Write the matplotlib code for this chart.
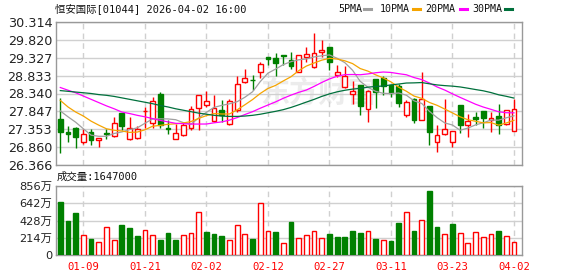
import numpy as np
import pandas as pd
import matplotlib
matplotlib.use('Agg')
import matplotlib.pyplot as plt
from matplotlib.lines import Line2D

plt.rcParams['font.family'] = ['DejaVu Sans', 'Noto Sans CJK SC']
MONO = ['DejaVu Sans Mono', 'Noto Sans CJK SC']

# ---- data ----
dates = ['01-06', '01-07', '01-08', '01-09', '01-12', '01-13', '01-14', '01-15', '01-16', '01-19',
         '01-20', '01-21', '01-22', '01-23', '01-26', '01-27', '01-28', '01-29', '01-30', '02-02',
         '02-03', '02-04', '02-05', '02-06', '02-09', '02-10', '02-11', '02-12', '02-13', '02-16',
         '02-20', '02-23', '02-24', '02-25', '02-26', '02-27', '03-02', '03-03', '03-04', '03-05',
         '03-06', '03-09', '03-10', '03-11', '03-12', '03-13', '03-16', '03-17', '03-18', '03-19',
         '03-20', '03-23', '03-24', '03-25', '03-26', '03-27', '03-30', '03-31', '04-01', '04-02']

opens = [27.632, 27.28, 27.402, 27.007, 27.28, 27.07, 27.26, 27.172, 27.806, 27.099,
         27.126, 27.85, 27.531, 28.321, 27.40, 27.098, 27.21, 27.402, 27.953, 28.036,
         27.595, 27.898, 27.512, 27.880, 28.643, 28.72, 28.918, 29.35, 29.313, 29.41,
         29.258, 28.937, 29.341, 29.056, 29.470, 29.617, 28.845, 28.523, 28.330, 28.569,
         27.926, 28.734, 28.753, 28.569, 28.541, 27.742, 28.201, 27.622, 28.0, 27.007,
         27.237, 27.007, 28.018, 27.485, 27.696, 27.852, 27.604, 27.714, 27.512, 27.310]
highs = [28.220, 27.44, 27.41, 27.356, 27.37, 27.126, 27.36, 27.696, 27.81, 27.70,
         27.44, 27.98, 28.24, 28.385, 27.60, 27.51, 27.56, 28.0, 28.312, 28.40,
         28.31, 28.156, 28.20, 28.82, 29.01, 28.84, 29.21, 29.35, 29.44, 29.41,
         29.47, 29.41, 29.61, 30.01, 29.81, 29.62, 29.12, 29.09, 28.68, 28.57,
         28.43, 28.74, 28.82, 28.57, 28.61, 28.16, 28.21, 28.937, 28.0, 27.47,
         28.183, 27.32, 28.02, 27.79, 27.83, 27.86, 27.83, 28.06, 27.90, 28.20]
lows = [26.713, 27.01, 26.84, 26.961, 26.93, 26.87, 27.10, 27.145, 27.33, 27.05,
        27.10, 27.40, 27.40, 27.393, 27.24, 27.08, 27.17, 27.33, 27.33, 27.97,
        27.56, 27.56, 27.466, 27.83, 28.615, 28.43, 28.77, 29.12, 28.83, 29.12,
        29.01, 28.93, 29.21, 29.03, 29.35, 28.98, 28.80, 28.50, 28.04, 27.76,
        27.56, 27.93, 28.29, 28.25, 27.97, 27.70, 27.53, 27.604, 26.915, 26.73,
        27.19, 26.87, 27.265, 27.145, 27.47, 27.39, 27.28, 27.24, 27.466, 27.31]
closes = [27.283, 27.24, 27.145, 27.237, 27.07, 27.126, 27.24, 27.531, 27.448, 27.385,
          27.37, 27.87, 28.128, 27.466, 27.37, 27.264, 27.466, 27.926, 28.312, 28.146,
          27.944, 27.742, 28.137, 28.606, 28.753, 28.70, 29.139, 29.30, 29.166, 29.37,
          29.102, 29.396, 29.415, 29.442, 29.534, 29.212, 28.937, 28.817, 28.404, 28.0,
          28.40, 28.38, 28.542, 28.367, 28.08, 28.10, 27.604, 28.183, 27.282, 27.209,
          27.374, 27.319, 27.466, 27.577, 27.650, 27.668, 27.678, 27.466, 27.898, 27.926]

# volume in 万 shares, and whether the bar is drawn red (up vs previous close)
volume = [658, 424, 523, 251, 202, 165, 346, 189, 374, 337,
          239, 309, 251, 189, 276, 189, 251, 276, 535, 288,
          263, 239, 189, 374, 263, 202, 646, 300, 288, 152,
          411, 214, 251, 300, 214, 263, 226, 226, 300, 276,
          300, 202, 189, 177, 399, 535, 300, 436, 794, 350,
          263, 387, 276, 152, 288, 226, 263, 300, 239, 164.7]
vol_up = [0, 0, 0, 1, 0, 1, 1, 1, 0, 0,
          0, 1, 1, 0, 0, 0, 1, 1, 1, 0,
          0, 0, 1, 1, 1, 0, 1, 1, 0, 1,
          0, 1, 1, 1, 1, 0, 0, 0, 0, 0,
          1, 0, 1, 0, 0, 1, 0, 1, 0, 0,
          1, 0, 1, 1, 1, 1, 1, 0, 1, 1]

# moving average values before a full window of visible closes exists
ma5_head = [27.86, 27.70, 27.55, 27.37]
ma10_head = [28.15, 27.97, 27.83, 27.72, 27.58, 27.47, 27.37, 27.33, 27.31]
ma20_head = [28.505, 28.43, 28.36, 28.27, 28.18, 28.09, 28.00, 27.92, 27.83, 27.79,
             27.74, 27.70, 27.65, 27.60, 27.56, 27.52, 27.51, 27.50, 27.50]
ma30_head = [28.42, 28.40, 28.38, 28.36, 28.34, 28.31, 28.29, 28.26, 28.22, 28.18,
             28.14, 28.10, 28.06, 28.01, 27.97, 27.92, 27.88, 27.84, 27.80, 27.77,
             27.74, 27.72, 27.71, 27.71, 27.72, 27.74, 27.77, 27.81, 27.85]

price_ticks = [26.366, 26.860, 27.353, 27.847, 28.340, 28.833, 29.327, 29.820, 30.314]
vol_ticks = [0, 214, 428, 642, 856]
vol_labels = ['0', '214万', '428万', '642万', '856万']

title = '恒安国际[01044] 2026-04-02 16:00'
vol_title = '成交量:1647000'

# ---- derived ----
o = np.array(opens); h = np.array(highs); l = np.array(lows); c = np.array(closes)
x = np.arange(len(c))
cs = pd.Series(c)
mas = {}
for n, head in [(5, ma5_head), (10, ma10_head), (20, ma20_head), (30, ma30_head)]:
    m = cs.rolling(n).mean().to_numpy()
    m[:n - 1] = head
    mas[n] = m

RED = '#ff0000'
GREEN = '#008000'
GRID = '#d0d0d0'
tick_idx = list(range(3, len(c), 8))

W, H = 578, 276
fig = plt.figure(figsize=(W / 100, H / 100), dpi=100)


def px_axes(left, top, right, bottom):
    return fig.add_axes([left / W, 1 - bottom / H, (right - left) / W, (bottom - top) / H])


ax = px_axes(55.7, 21.7, 522.3, 165.3)
axv = px_axes(55.7, 185.7, 522.3, 255.3)

for a in (ax, axv):
    a.set_xlim(-0.6, 60.08)
    for s in a.spines.values():
        s.set_color('#999999')
        s.set_linewidth(1.0)
    for t in tick_idx:
        a.axvline(t, color=GRID, lw=1, ls=(0, (4, 3)), zorder=1)
    a.tick_params(length=0, colors='#222222')

# watermark
ax.text(318 / W, 1 - 93 / H, '东方财富', transform=fig.transFigure, fontsize=21,
        fontweight='bold', color='#ececec', ha='center', va='center', zorder=0.5,
        family=['Noto Sans CJK SC'])

# candles
up = c > o
col = np.where(up, RED, GREEN)
ax.vlines(x, l, h, colors=col, lw=1, zorder=2)
ax.bar(x, np.maximum(np.abs(c - o), 0.004), bottom=np.minimum(o, c), width=0.62,
       facecolor=np.where(up, 'white', GREEN), edgecolor=col, linewidth=1, zorder=3)

ma_cols = {5: '#a0a0a0', 10: '#f5a400', 20: '#ff00ff', 30: '#00703c'}
for n in (5, 10, 20, 30):
    ax.plot(x, mas[n], color=ma_cols[n], lw=0.9, zorder=4)

ax.set_ylim(price_ticks[0], price_ticks[-1])
ax.set_yticks(price_ticks)
ax.set_yticklabels(['%.3f' % v for v in price_ticks], fontsize=9.2)
ax.set_xticks([])
ax.grid(axis='y', color=GRID, lw=1, zorder=1)
ax.set_axisbelow(True)
ax.tick_params(axis='y', pad=2.5)

# volume
vup = np.array(vol_up) == 1
vcol = np.where(vup, RED, GREEN)
axv.bar(x, volume, width=0.62, facecolor=np.where(vup, 'white', GREEN),
        edgecolor=vcol, linewidth=1, zorder=3)
axv.set_ylim(0, vol_ticks[-1])
axv.set_yticks(vol_ticks)
axv.set_yticklabels(vol_labels, fontsize=8.2)
axv.grid(axis='y', color=GRID, lw=1, zorder=1)
axv.set_axisbelow(True)
axv.set_xticks(tick_idx)
axv.set_xticklabels([dates[i] for i in tick_idx], color=RED, fontsize=7.6, family=MONO)
axv.tick_params(axis='x', pad=5)
axv.tick_params(axis='y', pad=2.5)

# header texts
fig.text(55 / W, 1 - 8.5 / H, title, fontsize=7.5, family=MONO, va='center', ha='left',
         color='#111111')
fig.text(57 / W, 1 - 177 / H, vol_title, fontsize=7.5, family=MONO, va='center', ha='left',
         color='#111111')

legend = [('5PMA', 338, 364, 371, ma_cols[5]), ('10PMA', 380, 413, 420, ma_cols[10]),
          ('20PMA', 425, 460, 467, ma_cols[20]), ('30PMA', 472, 505, 512, ma_cols[30])]
for lab, tx, d0, d1, cc in legend:
    fig.text(tx / W, 1 - 8.5 / H, lab, fontsize=7.2, family=MONO, va='center', ha='left',
             color='#111111')
    fig.add_artist(Line2D([d0 / W, d1 / W], [1 - 9 / H, 1 - 9 / H], color=cc, lw=2.2,
                          transform=fig.transFigure))

fig.savefig('out.png', dpi=100)
